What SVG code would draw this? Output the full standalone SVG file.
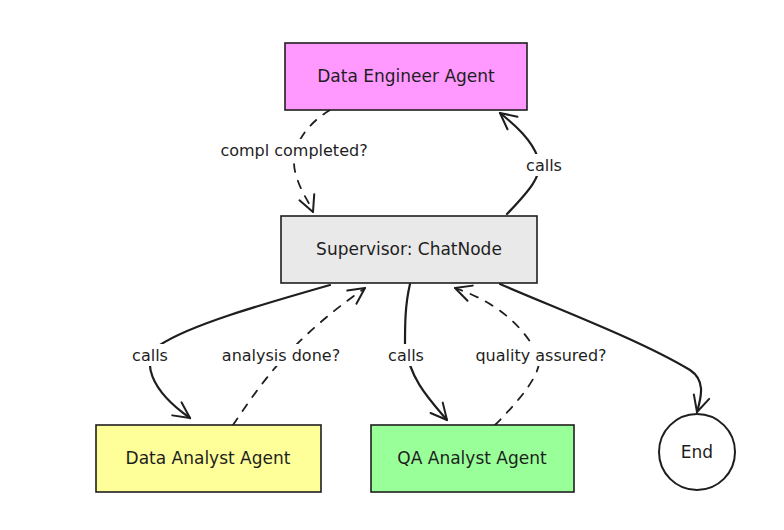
<svg xmlns="http://www.w3.org/2000/svg" width="784" height="530" viewBox="0 0 784 530">
<defs>
<marker id="ah" viewBox="0 0 20 20" refX="18" refY="10" markerWidth="20" markerHeight="20" markerUnits="userSpaceOnUse" orient="auto">
<path d="M2,2 L18,10 L2,18" fill="none" stroke="#1e1e1e" stroke-width="2" stroke-linecap="round" stroke-linejoin="round"/>
</marker>
</defs>
<style>
.box{stroke:#1e1e1e;stroke-width:1.6}
.t{font-family:"DejaVu Sans","Liberation Sans",sans-serif;font-size:17px;fill:#1e1e1e;text-anchor:middle;dominant-baseline:central}
.lbl{font-family:"DejaVu Sans","Liberation Sans",sans-serif;font-size:16px;fill:#1e1e1e;text-anchor:middle;dominant-baseline:central}
.e{fill:none;stroke:#1e1e1e;stroke-width:2.2;stroke-linecap:round;marker-end:url(#ah)}
.d{stroke-dasharray:8 9;stroke-width:1.8}
.bg{fill:#ffffff}
</style>
<rect width="784" height="530" fill="#ffffff"/>
<g id="connectors">
<path class="e d" d="M330,110 C305,125 288,150 296,175 C300,190 308,200 313,212"/>
<path class="e" d="M507,214 C525,195 545,175 538,158 C532,140 515,125 500,113"/>
<path class="e" d="M330,285 C260,305 190,325 160,345 C140,360 150,390 190,418"/>
<path class="e d" d="M233,425 C260,385 290,340 365,288"/>
<path class="e" d="M410,284 C405,305 405,325 405,345 C410,380 430,400 447,420"/>
<path class="e d" d="M495,425 C520,400 545,370 538,355 C520,320 490,300 455,288"/>
<path class="e" d="M500,284 C560,310 640,340 690,370 C705,380 702,395 697,412"/>
<g>
<rect class="bg" x="210" y="139" width="168" height="22"/>
<text class="lbl" x="294" y="150">compl completed?</text>
<rect class="bg" x="520" y="154" width="48" height="22"/>
<text class="lbl" x="544" y="165">calls</text>
<rect class="bg" x="126" y="344" width="48" height="22"/>
<text class="lbl" x="150" y="355">calls</text>
<rect class="bg" x="210" y="344" width="142" height="22"/>
<text class="lbl" x="281" y="355">analysis done?</text>
<rect class="bg" x="382" y="344" width="48" height="22"/>
<text class="lbl" x="406" y="355">calls</text>
<rect class="bg" x="462" y="344" width="158" height="22"/>
<text class="lbl" x="541" y="355">quality assured?</text>
</g>
</g>
<g id="data-engineer">
<rect class="box" x="285" y="43" width="242" height="67" fill="#ff99ff"/>
<text class="t" x="406" y="76">Data Engineer Agent</text>
</g>
<g id="supervisor">
<rect class="box" x="281" y="216" width="256" height="67" fill="#e9e9e9"/>
<text class="t" x="409" y="249">Supervisor: ChatNode</text>
</g>
<g id="data-analyst">
<rect class="box" x="96" y="425" width="225" height="67" fill="#ffff99"/>
<text class="t" x="208" y="458">Data Analyst Agent</text>
</g>
<g id="qa-analyst">
<rect class="box" x="371" y="425" width="203" height="67" fill="#99ff99"/>
<text class="t" x="472" y="458">QA Analyst Agent</text>
</g>
<g id="end">
<circle cx="697" cy="452" r="38" fill="#ffffff" stroke="#1e1e1e" stroke-width="2"/>
<text class="t" x="697" y="452">End</text>
</g>
</svg>
